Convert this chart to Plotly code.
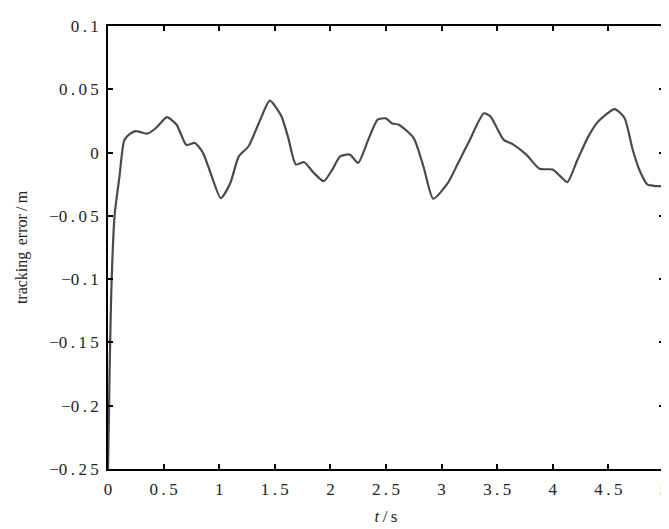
import plotly.graph_objects as go

t = [0, 0.008, 0.015, 0.03, 0.059, 0.103, 0.147, 0.2, 0.25, 0.3, 0.353, 0.426, 0.48, 0.53,
     0.617, 0.705, 0.78, 0.853, 0.93, 1.014, 1.1, 1.176, 1.264, 1.36, 1.455, 1.558, 1.62, 1.69,
     1.764, 1.85, 1.94, 2.02, 2.087, 2.175, 2.249, 2.34, 2.425, 2.499, 2.557, 2.616, 2.749,
     2.84, 2.925, 3.057, 3.15, 3.248, 3.38, 3.439, 3.557, 3.645, 3.762, 3.88, 3.998, 4.06,
     4.13, 4.22, 4.32, 4.41, 4.556, 4.645, 4.718, 4.78, 4.85, 4.93, 5.0]
err = [-0.25, -0.21, -0.17, -0.108, -0.05, -0.019, 0.010, 0.015, 0.017, 0.016, 0.015, 0.019,
       0.024, 0.028, 0.022, 0.006, 0.0076, 0.0, -0.018, -0.036, -0.024, -0.003, 0.005, 0.024,
       0.041, 0.029, 0.012, -0.0094, -0.0076, -0.016, -0.0226, -0.013, -0.003, -0.0016,
       -0.0081, 0.01, 0.026, 0.027, 0.023, 0.022, 0.0115, -0.012, -0.0365, -0.024, -0.008,
       0.009, 0.031, 0.0286, 0.0102, 0.0063, -0.0016, -0.0128, -0.0134, -0.018, -0.0234,
       -0.006, 0.0128, 0.0247, 0.0344, 0.0273, 0.0024, -0.014, -0.0252, -0.0265, -0.0265]

y_ticks = [0.1, 0.05, 0, -0.05, -0.1, -0.15, -0.2, -0.25]
y_labels = ["0.1", "0.05", "0", "\u22120.05", "\u22120.1", "\u22120.15", "\u22120.2", "\u22120.25"]
x_ticks = [0, 0.5, 1, 1.5, 2, 2.5, 3, 3.5, 4, 4.5, 5]
x_labels = ["0", "0.5", "1", "1.5", "2", "2.5", "3", "3.5", "4", "4.5", "5"]

SP = "\u2009"


def spaced(s):
    if s.startswith("\u2212"):
        return "\u2212" + SP.join(list(s[1:]))
    return SP.join(list(s))


fig = go.Figure()
fig.add_trace(go.Scatter(x=t, y=err, mode="lines",
                         line=dict(color="#4a4a4a", width=2.2, shape="spline", smoothing=0.6),
                         showlegend=False, hoverinfo="skip"))

axis_common = dict(showgrid=False, zeroline=False, showline=True, linecolor="black", linewidth=1.5,
                   mirror="ticks", ticks="inside", ticklen=5, tickcolor="black", tickwidth=1.5,
                   ticklabeloverflow="allow",
                   tickfont=dict(family="Liberation Serif", size=17, color="#222"))

fig.update_layout(
    width=669, height=529,
    margin=dict(l=100, r=9, t=16, b=68),
    plot_bgcolor="white", paper_bgcolor="white",
    xaxis=dict(range=[0, 5], tickvals=x_ticks, ticktext=[spaced(s) for s in x_labels],
               ticklabelstandoff=4,
               title=dict(text="<i>t</i>" + SP + "/" + SP + "s",
                          font=dict(family="Liberation Serif", size=17, color="#222"), standoff=12),
               **axis_common),
    yaxis=dict(range=[-0.25, 0.1], tickvals=y_ticks, ticktext=[spaced(s) for s in y_labels],
               ticklabelstandoff=4,
               title=dict(text="tracking" + SP + SP + "error" + SP + "/" + SP + "m",
                          font=dict(family="Liberation Serif", size=16, color="#222"), standoff=18),
               **axis_common),
)

fig.write_html("out.html")
